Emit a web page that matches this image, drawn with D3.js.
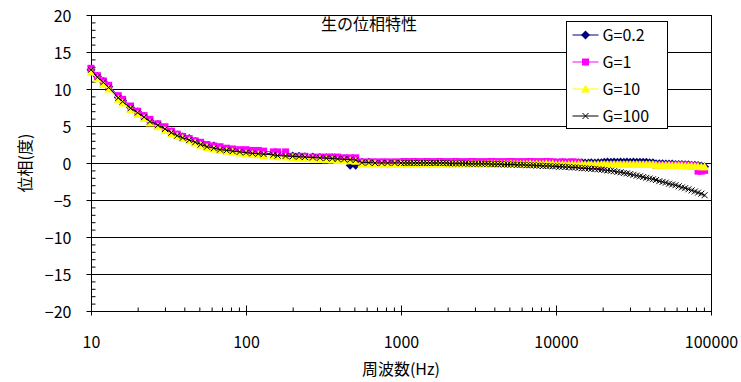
<!DOCTYPE html>
<html>
<head>
<meta charset="utf-8">
<script src="https://cdn.jsdelivr.net/npm/d3@7"></script>
<style>
	body { margin: 0; background: #fff; }
	svg { display: block; font-family: "Noto Sans CJK JP", "Noto Sans", sans-serif; }
</style>
</head>
<body>
<svg id="phasechart"></svg>
<script>
// frequencies (Hz)
let freqs = [10,11,12,13,15,16,18,20,22,24,27,30,33,36,39,43,47,51,56,62,68,75,82,91,
	100,110,120,130,150,160,180,200,220,240,270,300,330,360,390,430,470,510,560,620,680,750,820,910,
	1000,1050,1100,1150,1210,1270,1330,1400,1470,1540,1620,1690,1780,1870,1960,2050,
	2150,2260,2370,2490,2610,2740,2870,3010,3160,3320,3480,3650,3830,4020,4220,4420,
	4640,4870,5110,5360,5620,5900,6190,6490,6810,7150,7500,7870,8250,8660,9090,9530,
	10000,10500,11000,11500,12100,12700,13300,14000,14700,15400,16200,16900,17800,18700,19600,
	20500,21500,22600,23700,24900,26100,27400,28700,30100,31600,33200,34800,36500,38300,40200,42200,44200,
	46400,48700,51100,53600,56200,59000,61900,64900,68100,71500,75000,78700,82500,86600,90900];

let g02 = [12.6,11.7,11.0,10.3,8.9,8.4,7.5,6.9,6.3,5.7,5.2,4.6,4.2,3.8,3.5,3.3,2.9,2.6,2.3,2.3,1.9,1.8,1.7,1.55,
	1.45,1.35,1.3,1.25,1.3,1.1,1.0,0.95,0.9,0.85,0.8,0.75,0.7,0.7,0.6,0.55,-0.3,-0.3,0.1,0.1,0.05,0.05,0.0,0.0,
	0.05,0.0,0.05,0.0,0.0,0.05,0.0,0.0,
	0.05,0.0,0.0,0.0,0.05,0.0,0.0,0.0,
	0.0,0.05,0.0,0.0,0.0,0.0,0.05,0.0,
	0.0,0.0,0.0,0.0,0.05,0.0,0.0,0.0,
	0.0,0.0,0.05,0.0,0.0,0.0,0.0,0.0,
	0.05,0.0,0.0,0.0,0.0,0.05,0.0,0.0,
	0.0,0.0,0.05,0.0,0.0,0.05,0.0,0.0,0.05,0.0,0.0,0.05,0.0,0.05,0.05,
	0.1,0.15,0.1,0.15,0.1,0.15,0.1,0.15,0.1,0.15,0.1,0.1,0.1,0.1,0.05,0.05,
	-0.1,-0.1,-0.1,-0.15,-0.15,-0.15,-0.2,-0.2,-0.2,-0.25,-0.25,-0.3,-0.3,-0.35,-0.4,-0.5];

let g1 = [12.8,11.8,11.1,10.5,9.1,8.6,7.7,7.0,6.4,5.9,5.3,4.9,4.3,3.9,3.6,3.3,3.0,2.8,2.5,2.3,2.2,2.0,1.9,1.8,
	1.8,1.7,1.7,1.6,1.5,1.5,1.5,0.9,0.9,0.9,0.8,0.8,0.8,0.8,0.8,0.7,0.7,0.7,0.15,0.15,0.15,0.15,0.15,0.15,
	0.15,0.2,0.15,0.15,0.2,0.15,0.15,0.15,
	0.2,0.15,0.15,0.15,0.2,0.15,0.15,0.15,
	0.15,0.2,0.15,0.15,0.15,0.15,0.2,0.15,
	0.15,0.15,0.15,0.15,0.2,0.15,0.15,0.15,
	0.15,0.15,0.2,0.15,0.15,0.15,0.15,0.15,
	0.2,0.15,0.15,0.15,0.15,0.2,0.15,0.15,
	0.1,0.1,0.15,0.1,0.1,0.15,0.1,0.1,
	-0.3,-0.3,-0.3,-0.3,-0.3,-0.3,-0.3,
	-0.2,-0.2,-0.2,-0.2,-0.2,-0.2,-0.2,-0.2,-0.2,-0.2,-0.2,-0.2,-0.2,-0.2,-0.2,-0.2,
	-0.3,-0.3,-0.3,-0.3,-0.3,-0.3,-0.3,-0.3,-0.3,-0.3,-0.3,
	-0.4,-0.4,-1.1,-1.1,-1.0];

let g10 = [12.3,11.4,10.6,10.0,8.6,8.1,7.2,6.6,6.0,5.4,4.9,4.4,4.0,3.6,3.3,3.0,2.7,2.4,2.1,1.9,1.7,1.6,1.5,1.35,
	1.25,1.15,1.1,1.0,0.9,0.85,0.8,0.7,0.65,0.6,0.55,0.5,0.45,0.4,0.35,0.3,0.3,0.25,-0.1,-0.1,-0.1,-0.15,-0.15,-0.15,
	-0.15,-0.1,-0.15,-0.15,-0.1,-0.15,-0.15,-0.15,
	-0.1,-0.15,-0.15,-0.15,-0.1,-0.15,-0.15,-0.15,
	-0.15,-0.1,-0.15,-0.15,-0.15,-0.15,-0.1,-0.15,
	-0.15,-0.15,-0.15,-0.15,-0.1,-0.15,-0.15,-0.15,
	-0.15,-0.15,-0.1,-0.15,-0.15,-0.15,-0.15,-0.15,
	-0.1,-0.15,-0.15,-0.15,-0.15,-0.1,-0.15,-0.15,
	-0.2,-0.2,-0.2,-0.2,-0.2,-0.2,-0.2,-0.2,-0.2,-0.2,-0.2,-0.2,-0.2,-0.2,-0.2,
	-0.2,-0.2,-0.2,-0.2,-0.2,-0.2,-0.2,-0.2,-0.2,-0.2,-0.2,-0.2,-0.2,-0.2,-0.2,-0.2,
	-0.3,-0.3,-0.3,-0.3,-0.3,-0.35,-0.35,-0.35,-0.35,-0.4,-0.4,-0.4,-0.45,-0.45,-0.5,-0.5];

let g100 = [12.6,11.6,10.9,10.2,8.8,8.3,7.4,6.8,6.2,5.6,5.1,4.6,4.1,3.7,3.4,3.1,2.8,2.5,2.2,2.0,1.8,1.7,1.6,1.5,
	1.4,1.3,1.25,1.2,1.1,1.0,0.95,0.9,0.85,0.8,0.75,0.7,0.65,0.6,0.55,0.5,0.45,0.4,0.05,0.05,0.0,0.0,0.0,0.0,
	0.0,0.0,0.0,0.0,0.0,0.0,0.0,0.0,
	0.0,0.0,0.0,0.0,0.0,0.0,0.0,-0.05,
	-0.05,-0.05,-0.05,-0.05,-0.05,-0.1,-0.1,-0.1,
	-0.1,-0.1,-0.1,-0.1,-0.15,-0.15,-0.15,-0.15,
	-0.2,-0.2,-0.2,-0.2,-0.25,-0.25,-0.25,-0.3,
	-0.3,-0.3,-0.35,-0.35,-0.4,-0.4,-0.4,-0.45,
	-0.45,-0.5,-0.5,-0.55,-0.55,-0.6,-0.6,-0.65,-0.7,-0.7,-0.75,-0.8,-0.8,-0.85,-0.9,
	-0.95,-1.0,-1.05,-1.1,-1.2,-1.25,-1.35,-1.4,-1.5,-1.6,-1.7,-1.8,-1.9,-2.0,-2.1,-2.2,-2.3,
	-2.45,-2.55,-2.65,-2.8,-2.9,-3.0,-3.15,-3.3,-3.4,-3.55,-3.7,-3.85,-4.0,-4.15,-4.35];

let seriesNames = ['G=0.2', 'G=1', 'G=10', 'G=100'];
let yTicks = [-20, -15, -10, -5, 0, 5, 10, 15, 20];
let xTicks = [10, 100, 1000, 10000, 100000];
let title = '生の位相特性';
let xLabel = '周波数(Hz)';
let yLabel = '位相(度)';

function makeChart() {
	let w = 741;
	let h = 382;
	let left = 91, right = 711, top = 15, bottom = 311;

	let chart = d3.select('#phasechart')
		.attr('width', w)
		.attr('height', h);

	let x = d3.scaleLog().domain([10, 100000]).range([left, right]);
	let y = d3.scaleLinear().domain([-20, 20]).range([bottom, top]);

	// gridlines
	chart.append('g')
		.selectAll('line')
		.data(yTicks)
		.enter()
		.append('line')
		.attr('x1', left)
		.attr('x2', right)
		.attr('y1', d => y(d) + 0.5)
		.attr('y2', d => y(d) + 0.5)
		.attr('stroke', '#000')
		.attr('stroke-width', 1);

	// right border
	chart.append('line')
		.attr('x1', right + 0.5).attr('x2', right + 0.5)
		.attr('y1', top).attr('y2', bottom + 1)
		.attr('stroke', '#000');

	// y axis: major ticks cross, minor ticks inside
	let yAxis = chart.append('g').attr('transform', `translate(${left + 0.5},0.5)`);
	yAxis.append('line').attr('y1', top - 0.5).attr('y2', bottom).attr('stroke', '#000');
	yAxis.selectAll('.minor')
		.data(d3.range(-20, 21))
		.enter()
		.append('line')
		.attr('x1', 0).attr('x2', 4)
		.attr('y1', d => y(d)).attr('y2', d => y(d))
		.attr('stroke', '#000');
	yAxis.selectAll('.major')
		.data(yTicks)
		.enter()
		.append('line')
		.attr('x1', -5).attr('x2', 0)
		.attr('y1', d => y(d)).attr('y2', d => y(d))
		.attr('stroke', '#000');
	yAxis.selectAll('text')
		.data(yTicks)
		.enter()
		.append('text')
		.attr('x', -20)
		.attr('y', d => y(d) + 6)
		.attr('text-anchor', 'end')
		.attr('font-size', 16)
		.attr('fill', '#000')
		.text(d => d < 0 ? '\u2212' + Math.abs(d) : d);

	// x axis
	let minorX = [];
	xTicks.slice(0, -1).forEach(t => {
		for (let k = 2; k <= 9; k++) minorX.push(t * k);
	});
	let xAxis = chart.append('g').attr('transform', `translate(0.5,${bottom + 0.5})`);
	xAxis.append('line').attr('x1', left - 0.5).attr('x2', right).attr('stroke', '#000');
	xAxis.selectAll('.minor')
		.data(minorX)
		.enter()
		.append('line')
		.attr('x1', d => x(d)).attr('x2', d => x(d))
		.attr('y1', 0).attr('y2', -4)
		.attr('stroke', '#000');
	xAxis.selectAll('.major')
		.data(xTicks)
		.enter()
		.append('line')
		.attr('x1', d => x(d)).attr('x2', d => x(d))
		.attr('y1', 4).attr('y2', -6)
		.attr('stroke', '#000');
	xAxis.selectAll('text')
		.data(xTicks)
		.enter()
		.append('text')
		.attr('x', d => x(d))
		.attr('y', 36)
		.attr('text-anchor', 'middle')
		.attr('font-size', 16)
		.attr('fill', '#000')
		.text(d => d);

	// series
	let series = [
		{ name: seriesNames[0], values: g02, color: '#000080', marker: 'diamond' },
		{ name: seriesNames[1], values: g1, color: '#FF00FF', marker: 'square' },
		{ name: seriesNames[2], values: g10, color: '#FFFF00', marker: 'triangle' },
		{ name: seriesNames[3], values: g100, color: '#000000', marker: 'cross' }
	];

	let markerPath = {
		diamond: 'M0,-4.5L4.5,0L0,4.5L-4.5,0Z',
		square: 'M-3.5,-3.5H3.5V3.5H-3.5Z',
		triangle: 'M0,-4.5L4.5,3.5L-4.5,3.5Z',
		cross: 'M-3,-3L3,3M3,-3L-3,3'
	};

	function drawMarker(sel, s) {
		sel.append('path')
			.attr('d', markerPath[s.marker])
			.attr('fill', s.marker == 'cross' ? 'none' : s.color)
			.attr('stroke', s.marker == 'cross' ? s.color : 'none')
			.attr('stroke-width', 1);
	}

	let line = d3.line()
		.x(d => x(d[0]))
		.y(d => y(d[1]));

	series.forEach(s => {
		let pts = freqs.map((f, i) => [f, s.values[i]]);
		let g = chart.append('g');
		g.append('path')
			.attr('d', line(pts))
			.attr('fill', 'none')
			.attr('stroke', s.color)
			.attr('stroke-width', 1);
		g.selectAll('g')
			.data(pts)
			.enter()
			.append('g')
			.attr('transform', d => `translate(${x(d[0])},${y(d[1])})`)
			.each(function () { drawMarker(d3.select(this), s); });
	});

	// legend
	let legend = chart.append('g').attr('transform', 'translate(566.5,21.5)');
	legend.append('rect')
		.attr('width', 101)
		.attr('height', 107)
		.attr('fill', '#fff')
		.attr('stroke', '#000');
	series.forEach((s, i) => {
		let row = legend.append('g').attr('transform', `translate(0,${13.5 + i * 27})`);
		row.append('line')
			.attr('x1', 6).attr('x2', 32)
			.attr('stroke', s.color);
		let m = row.append('g').attr('transform', 'translate(19,0)');
		drawMarker(m, s);
		row.append('text')
			.attr('x', 36)
			.attr('y', 6)
			.attr('font-size', 16)
			.attr('fill', '#000')
			.text(s.name);
	});

	// title and axis labels
	chart.append('text')
		.attr('x', 369)
		.attr('y', 30)
		.attr('text-anchor', 'middle')
		.attr('font-size', 16)
		.text(title);

	chart.append('text')
		.attr('x', 401)
		.attr('y', 375)
		.attr('text-anchor', 'middle')
		.attr('font-size', 16)
		.text(xLabel);

	chart.append('text')
		.attr('transform', 'translate(31,163) rotate(-90)')
		.attr('text-anchor', 'middle')
		.attr('font-size', 16)
		.text(yLabel);
}

window.onload = function () {
	makeChart();
}
</script>
</body>
</html>
